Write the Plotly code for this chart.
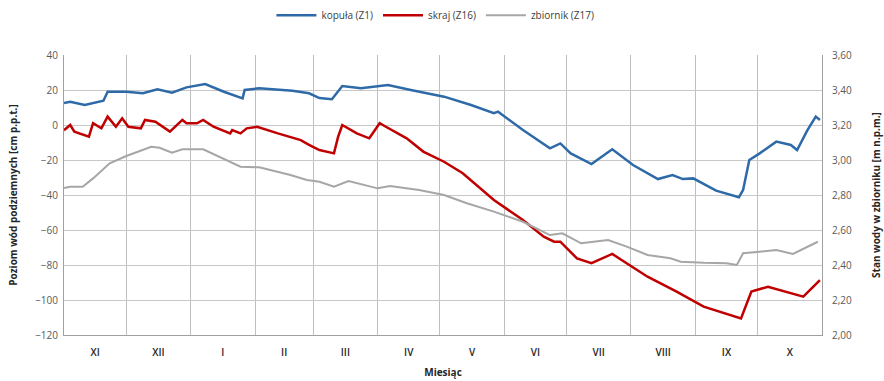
import pandas as pd
import plotly.graph_objects as go

START = "2012-11-01"

# day offsets from 1 Nov and values
blue_days = [0, 3, 10, 19, 21, 30, 38, 45, 52, 59, 68, 77, 86, 87, 94, 110, 123, 118, 129, 134, 143, 156, 167, 183, 196, 207, 209, 221, 234, 239, 244, 247, 254, 264, 274, 286, 293, 298, 303, 314, 325, 327, 330, 335, 343, 350, 353, 358, 362, 364]
blue_vals = [12.5, 13.3, 11.4, 13.9, 19, 19, 18.1, 20.4, 18.5, 21.5, 23.4, 19, 15.2, 20, 21, 19.6, 15.4, 18.1, 14.7, 22.3, 21, 22.9, 20, 16.2, 11.4, 6.7, 7.6, -2.9, -13.3, -10.5, -16.2, -18.1, -22.3, -13.9, -22.9, -30.9, -28.6, -30.9, -30.5, -37.5, -41.3, -37.1, -20, -16.2, -9.5, -11.4, -14.3, -2.9, 4.8, 2.9]

red_days = [0, 3, 5, 12, 14, 18, 21, 25, 28, 31, 37, 39, 44, 51, 57, 59, 64, 67, 72, 80, 81, 85, 88, 93, 103, 114, 118, 123, 130, 132, 134, 141, 147, 152, 155, 165, 173, 183, 192, 207, 221, 231, 236, 239, 247, 254, 264, 281, 295, 308, 326, 331, 339, 356, 364]
red_vals = [-3, 0, -3.8, -6.7, 1, -1.9, 4.8, -1, 3.8, -1, -1.9, 2.9, 1.9, -3.8, 2.9, 1, 1, 2.9, -1, -4.8, -2.9, -4.8, -1.9, -1, -4.8, -8.6, -11.4, -14.3, -16.2, -6.7, 0, -4.8, -7.6, 1, -1, -7.6, -15.2, -21, -27.6, -42.9, -54.3, -63.8, -66.7, -66.7, -76.2, -79, -73.7, -86.7, -95.2, -103.8, -110.5, -95.2, -92.4, -98.1, -88.6]

gray_days = [0, 3, 9, 14, 22, 30, 42, 46, 52, 57, 67, 75, 85, 94, 109, 117, 119, 123, 130, 137, 151, 157, 171, 183, 194, 207, 221, 234, 240, 249, 255, 262, 271, 281, 292, 297, 308, 319, 324, 327, 335, 343, 351, 358, 363]
gray_vals = [2.84, 2.847, 2.847, 2.895, 2.981, 3.023, 3.076, 3.070, 3.042, 3.061, 3.061, 3.019, 2.962, 2.958, 2.914, 2.886, 2.882, 2.876, 2.847, 2.880, 2.838, 2.851, 2.829, 2.80, 2.753, 2.705, 2.647, 2.571, 2.581, 2.524, 2.533, 2.543, 2.505, 2.457, 2.438, 2.419, 2.413, 2.410, 2.40, 2.467, 2.476, 2.486, 2.463, 2.505, 2.533]

month_labels = ["XI", "XII", "I", "II", "III", "IV", "V", "VI", "VII", "VIII", "IX", "X"]

start = pd.Timestamp(START)
def to_dates(days):
    return [start + pd.Timedelta(days=d) for d in days]

def srt(days, vals):
    pairs = sorted(zip(days, vals), key=lambda p: p[0])
    return [p[0] for p in pairs], [p[1] for p in pairs]

bd, bv = srt(blue_days, blue_vals)
rd, rv = srt(red_days, red_vals)
gd, gv = srt(gray_days, gray_vals)

month_starts = pd.date_range(START, periods=13, freq="MS")
mid_months = [month_starts[i] + (month_starts[i + 1] - month_starts[i]) / 2 for i in range(12)]

fig = go.Figure()
fig.add_trace(go.Scatter(x=to_dates(bd), y=bv, mode="lines", name="kopuła (Z1)",
                         line=dict(color="#2F6AA8", width=2.5)))
fig.add_trace(go.Scatter(x=to_dates(rd), y=rv, mode="lines", name="skraj (Z16)",
                         line=dict(color="#C00000", width=2.5)))
fig.add_trace(go.Scatter(x=to_dates(gd), y=gv, mode="lines", name="zbiornik (Z17)", yaxis="y2",
                         line=dict(color="#A6A6A6", width=2)))

font = "Open Sans"
fig.update_layout(
    width=884, height=381,
    margin=dict(l=64, r=62, t=55, b=46, autoexpand=False),
    paper_bgcolor="white", plot_bgcolor="white",
    separators=", ",
    font=dict(family=font, size=10, color="#404040"),
    showlegend=True,
    legend=dict(orientation="h", x=0.49, xanchor="center", y=0.96, yanchor="middle",
                yref="container", itemwidth=40, font=dict(size=10, color="#404040")),
    xaxis=dict(
        type="date", range=[month_starts[0], month_starts[-1]], automargin=False,
        tickmode="array", tickvals=mid_months, ticktext=month_labels,
        ticks="", showgrid=False, tickfont=dict(size=10, color="#262626", family=font + " Semibold"),
        ticklabelstandoff=8,
        showline=True, linecolor="#A0A0A0", linewidth=1,
        minor=dict(tickvals=list(month_starts), showgrid=True, gridcolor="#BFBFBF", gridwidth=1, ticks=""),
        title=dict(text="<b>Miesiąc</b>", font=dict(size=10, color="#262626"), standoff=10),
        zeroline=False,
    ),
    yaxis=dict(
        range=[-120, 40], dtick=20, tick0=0, showgrid=True, gridcolor="#C8C8C8", gridwidth=1,
        zeroline=False, showline=True, linecolor="#A0A0A0", mirror=True, automargin=False,
        tickfont=dict(size=10, color="#595959"), ticks="", ticklabelstandoff=3,
        title=dict(text="<b>Poziom wód podziemnych [cm p.p.t.]</b>", font=dict(size=10, color="#262626"), standoff=15),
    ),
    yaxis2=dict(
        range=[2.0, 3.6], dtick=0.2, tick0=2.0, overlaying="y", side="right", showgrid=False,
        zeroline=False, tickformat=".2f", tickfont=dict(size=10, color="#595959"), ticks="",
        ticklabelstandoff=9, automargin=False,
        title=dict(text="<b>Stan wody w zbiorniku [m n.p.m.]</b>", font=dict(size=10, color="#262626"), standoff=21),
    ),
)

fig.write_html("out.html", config={"displayModeBar": False},
               post_script="document.body.style.margin='0';")
